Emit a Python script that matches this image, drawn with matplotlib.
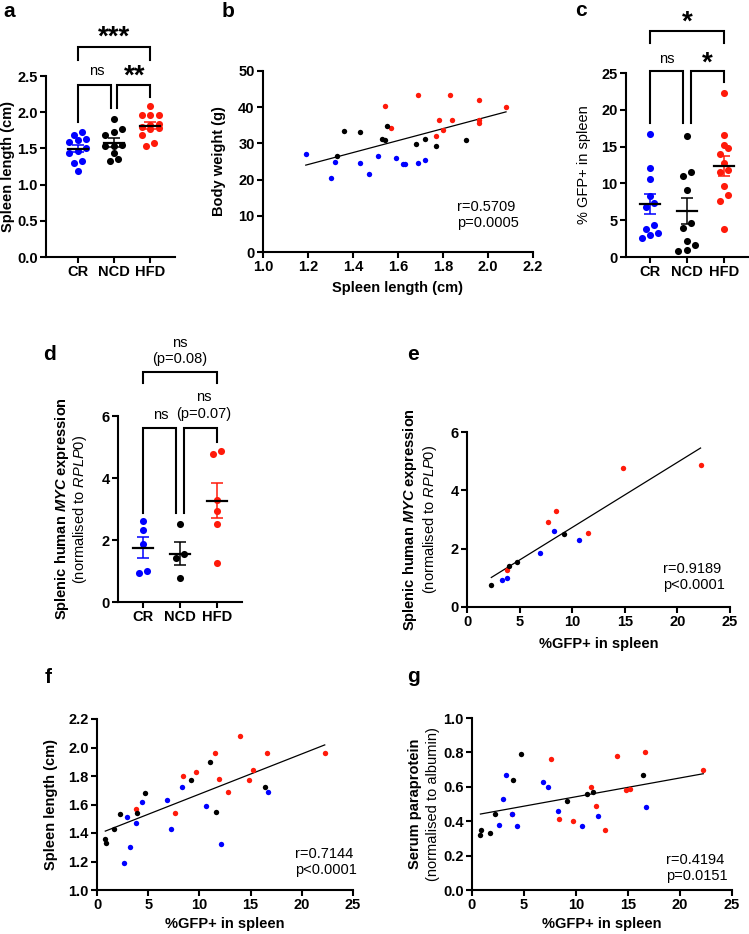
import numpy as np
import matplotlib.pyplot as plt

plt.rcParams['font.family'] = ['Liberation Sans', 'DejaVu Sans']
plt.rcParams['mathtext.fontset'] = 'custom'
plt.rcParams['mathtext.rm'] = 'Liberation Sans'
plt.rcParams['mathtext.it'] = 'Liberation Sans:italic'
plt.rcParams['mathtext.bf'] = 'Liberation Sans:bold'
plt.rcParams['mathtext.bfit'] = 'Liberation Sans:bold:italic'

BLUE = '#0000ff'
RED = '#ff1a0a'
groups = ['CR', 'NCD', 'HFD']
colors = [BLUE, 'black', RED]

# per mouse values, each group ordered by %GFP+ in spleen
gfp_cr = [2.63, 2.95, 3.25, 3.80, 4.35, 6.85, 7.27, 8.28, 10.62, 12.08, 16.72]
spleen_cr = [1.19, 1.51, 1.30, 1.47, 1.62, 1.63, 1.43, 1.72, 1.59, 1.32, 1.69]
weight_cr = [27.1, 26.6, 20.5, 21.5, 24.4, 24.4, 24.7, 25.5, 26.1, 24.9, 24.5]
para_cr = [0.38, 0.53, 0.67, 0.44, 0.37, 0.63, 0.60, 0.46, 0.37, 0.43, 0.48]

gfp_ncd = [0.81, 0.91, 1.69, 2.21, 3.90, 4.68, 9.16, 11.07, 11.59, 16.40]
spleen_ncd = [1.36, 1.33, 1.43, 1.53, 1.54, 1.68, 1.77, 1.90, 1.55, 1.72]
weight_ncd = [33.5, 26.5, 33.1, 31.3, 31.0, 29.9, 29.3, 30.9, 34.8, 31.3]
para_ncd = [0.32, 0.35, 0.33, 0.44, 0.64, 0.79, 0.52, 0.56, 0.57, 0.67]

gfp_hfd = [3.80, 7.60, 8.41, 9.68, 11.49, 11.88, 12.79, 13.99, 14.81, 15.23, 16.59, 22.24]
spleen_hfd = [1.57, 1.54, 1.80, 1.83, 1.96, 1.78, 1.69, 2.08, 1.77, 1.84, 1.96, 1.96]
weight_hfd = [34.3, 40.3, 33.7, 43.5, 41.9, 36.4, 43.5, 40.0, 32.1, 36.6, 36.6, 35.7]
para_hfd = [0.44, 0.76, 0.41, 0.40, 0.60, 0.49, 0.35, 0.78, 0.58, 0.59, 0.80, 0.70]

# MYC qPCR subset
myc_gfp_cr = [3.29, 3.83, 6.90, 8.29, 10.60]
myc_cr = [0.94, 1.00, 1.86, 2.61, 2.31]
myc_gfp_ncd = [2.31, 3.96, 4.72, 9.21]
myc_ncd = [0.76, 1.41, 1.56, 2.51]
myc_gfp_hfd = [3.83, 7.72, 8.45, 11.52, 14.84, 22.20]
myc_hfd = [1.26, 2.92, 3.28, 2.53, 4.78, 4.87]

W, H = 749, 934
fig = plt.figure(figsize=(W / 100, H / 100), dpi=100)


def add_ax(l, t, r, b):
    # pixel box -> axes
    ax = fig.add_axes([l / W, 1 - b / H, (r - l) / W, (b - t) / H])
    for s in ['top', 'right']:
        ax.spines[s].set_visible(False)
    for s in ['left', 'bottom']:
        ax.spines[s].set_linewidth(1.5)
    ax.tick_params(direction='out', length=4, width=1.5, labelsize=10.5, pad=2)
    return ax


def bold_ticks(ax):
    for lab in ax.get_xticklabels() + ax.get_yticklabels():
        lab.set_fontweight('bold')


def swarm_offsets(vals, px_x, px_y, d=8.5):
    vals = np.asarray(vals)
    order = np.argsort(vals)
    offs = np.zeros(len(vals))
    rows = []
    for i in order:
        if rows and (vals[i] - vals[rows[-1][0]]) * px_y < d * 0.85:
            rows[-1].append(i)
        else:
            rows.append([i])
    for row in rows:
        n = len(row)
        for j, i in enumerate(row):
            offs[i] = (j - (n - 1) / 2) * d / px_x
    return offs


def dot_plot(ax, data, px_x, px_y):
    for i, (v, c) in enumerate(zip(data, colors)):
        v = np.asarray(v)
        off = swarm_offsets(v, px_x, px_y)
        ax.scatter(i + off, v, s=26, color=c, lw=0, zorder=2)
        m = v.mean()
        sem = v.std(ddof=1) / np.sqrt(len(v))
        ax.errorbar(i, m, yerr=sem, color=c, lw=1.1, capsize=4.5, capthick=1.1, zorder=3)
        ax.plot([i - 0.28, i + 0.28], [m, m], color='black', lw=1.6, zorder=4)
    ax.set_xticks(range(3))
    ax.set_xticklabels(groups)
    bold_ticks(ax)


def bracket(ax, x1, x2, y, y1, y2):
    ax.plot([x1, x1, x2, x2], [y1, y, y, y2], color='black', lw=1.5, clip_on=False,
            solid_joinstyle='miter')


def stars(ax, x, y, txt):
    ax.text(x, y, txt, ha='center', va='bottom', fontsize=20, fontweight='bold')


def fit_line(ax, xs, ys):
    xs = np.concatenate(xs)
    ys = np.concatenate(ys)
    k, b0 = np.polyfit(xs, ys, 1)
    xx = np.array([xs.min(), xs.max()])
    ax.plot(xx, k * xx + b0, color='black', lw=0.9, zorder=1)


def ylab(ax, txt, off, weight='bold'):
    w = ax.get_position().width * W
    ax.set_ylabel(txt, fontsize=10.5, fontweight=weight)
    ax.yaxis.set_label_coords(-off / w, 0.5)


def ylab2(ax, l1, l2, off1, off2):
    w = ax.get_position().width * W
    ax.text(-off1 / w, 0.5, l1, transform=ax.transAxes, rotation=90, ha='center',
            va='center', fontsize=10.5, fontweight='bold')
    ax.text(-off2 / w, 0.5, l2, transform=ax.transAxes, rotation=90, ha='center',
            va='center', fontsize=10.5)


def xlab(ax, txt, off):
    h = ax.get_position().height * H
    ax.set_xlabel(txt, fontsize=10.5, fontweight='bold')
    ax.xaxis.set_label_coords(0.5, -off / h)


def stats(ax, txt, x, y):
    ax.text(x, y, txt, transform=ax.transAxes, fontsize=10.5, va='top', ha='left',
            linespacing=1.15)


# ---- a ----
ax = add_ax(46, 76, 175, 257)
ax.set_xlim(-0.88, 2.69)
ax.set_ylim(0, 2.5)
ax.set_yticks([0, 0.5, 1.0, 1.5, 2.0, 2.5])
ax.set_yticklabels(['0.0', '0.5', '1.0', '1.5', '2.0', '2.5'])
dot_plot(ax, [spleen_cr, spleen_ncd, spleen_hfd], 36, 72.4)
ylab(ax, 'Spleen length (cm)', 31)
bracket(ax, 0, 2, 2.9, 2.72, 2.72)
bracket(ax, 0, 0.91, 2.38, 1.86, 2.06)
bracket(ax, 1.09, 2, 2.38, 2.06, 2.21)
stars(ax, 1, 2.845, '***')
ax.text(0.52, 2.47, 'ns', ha='center', va='bottom', fontsize=10.5)
stars(ax, 1.58, 2.305, '**')

# ---- b ----
ax = add_ax(263, 71, 533, 252)
ax.scatter(spleen_hfd, weight_hfd, s=15, color=RED, lw=0, zorder=2)
ax.scatter(spleen_ncd, weight_ncd, s=15, color='black', lw=0, zorder=2)
ax.scatter(spleen_cr, weight_cr, s=15, color=BLUE, lw=0, zorder=2)
fit_line(ax, [spleen_cr, spleen_ncd, spleen_hfd], [weight_cr, weight_ncd, weight_hfd])
ax.set_xlim(1.0, 2.2)
ax.set_ylim(0, 50)
ax.set_xticks(np.arange(1.0, 2.21, 0.2))
ax.set_xticklabels(['1.0', '1.2', '1.4', '1.6', '1.8', '2.0', '2.2'])
ax.set_yticks(range(0, 51, 10))
bold_ticks(ax)
ylab(ax, 'Body weight (g)', 37)
xlab(ax, 'Spleen length (cm)', 29)
stats(ax, 'r=0.5709\np=0.0005', 0.72, 0.285)

# ---- c ----
ax = add_ax(626, 73, 749, 257)
ax.set_xlim(-0.65, 2.68)
ax.set_ylim(0, 25)
ax.set_yticks(range(0, 26, 5))
dot_plot(ax, [gfp_cr, gfp_ncd, gfp_hfd], 37, 7.36)
ylab(ax, '% GFP+ in spleen', 35, weight='normal')
bracket(ax, 0, 2, 30.7, 29.1, 29.1)
bracket(ax, 0, 0.9, 25.3, 18.2, 18.2)
bracket(ax, 1.1, 2, 25.3, 18.2, 23.8)
stars(ax, 1, 30.05, '*')
ax.text(0.45, 26.0, 'ns', ha='center', va='bottom', fontsize=10.5)
stars(ax, 1.55, 24.57, '*')

# ---- d ----
ax = add_ax(118, 416, 242, 602)
ax.set_xlim(-0.68, 2.68)
ax.set_ylim(0, 6)
ax.set_yticks([0, 2, 4, 6])
dot_plot(ax, [myc_cr, myc_ncd, myc_hfd], 37, 31)
ylab2(ax, r'Splenic human $\mathbfit{MYC}$ expression', r'(normalised to $\mathit{RPLP0}$)', 56, 38)
bracket(ax, 0, 2, 7.43, 7.06, 7.06)
bracket(ax, 0, 0.9, 5.6, 2.87, 2.87)
bracket(ax, 1.1, 2, 5.6, 2.87, 5.16)
ax.text(1, 8.35, 'ns', ha='center', va='center', fontsize=10.5)
ax.text(1, 7.84, '(p=0.08)', ha='center', va='center', fontsize=10.5)
ax.text(0.48, 6.03, 'ns', ha='center', va='center', fontsize=10.5)
ax.text(1.65, 6.6, 'ns', ha='center', va='center', fontsize=10.5)
ax.text(1.65, 6.06, '(p=0.07)', ha='center', va='center', fontsize=10.5)

# ---- e ----
ax = add_ax(467, 432, 730, 607)
ax.scatter(myc_gfp_hfd, myc_hfd, s=15, color=RED, lw=0, zorder=2)
ax.scatter(myc_gfp_ncd, myc_ncd, s=15, color='black', lw=0, zorder=2)
ax.scatter(myc_gfp_cr, myc_cr, s=15, color=BLUE, lw=0, zorder=2)
fit_line(ax, [myc_gfp_cr, myc_gfp_ncd, myc_gfp_hfd], [myc_cr, myc_ncd, myc_hfd])
ax.set_xlim(0, 25)
ax.set_ylim(0, 6)
ax.set_xticks(range(0, 26, 5))
ax.set_yticks([0, 2, 4, 6])
bold_ticks(ax)
ylab2(ax, r'Splenic human $\mathbfit{MYC}$ expression', r'(normalised to $\mathit{RPLP0}$)', 57, 37)
xlab(ax, '%GFP+ in spleen', 30)
stats(ax, 'r=0.9189\np<0.0001', 0.745, 0.255)

# ---- f ----
ax = add_ax(97, 719, 353, 890)
ax.scatter(gfp_hfd, spleen_hfd, s=15, color=RED, lw=0, zorder=2)
ax.scatter(gfp_ncd, spleen_ncd, s=15, color='black', lw=0, zorder=2)
ax.scatter(gfp_cr, spleen_cr, s=15, color=BLUE, lw=0, zorder=2)
fit_line(ax, [gfp_cr, gfp_ncd, gfp_hfd], [spleen_cr, spleen_ncd, spleen_hfd])
ax.set_xlim(0, 25)
ax.set_ylim(1.0, 2.2)
ax.set_xticks(range(0, 26, 5))
ax.set_yticks(np.arange(1.0, 2.21, 0.2))
ax.set_yticklabels(['1.0', '1.2', '1.4', '1.6', '1.8', '2.0', '2.2'])
bold_ticks(ax)
ylab(ax, 'Spleen length (cm)', 39)
xlab(ax, '%GFP+ in spleen', 27)
stats(ax, 'r=0.7144\np<0.0001', 0.775, 0.25)

# ---- g ----
ax = add_ax(472, 718, 732, 890)
ax.scatter(gfp_hfd, para_hfd, s=15, color=RED, lw=0, zorder=2)
ax.scatter(gfp_ncd, para_ncd, s=15, color='black', lw=0, zorder=2)
ax.scatter(gfp_cr, para_cr, s=15, color=BLUE, lw=0, zorder=2)
fit_line(ax, [gfp_cr, gfp_ncd, gfp_hfd], [para_cr, para_ncd, para_hfd])
ax.set_xlim(0, 25)
ax.set_ylim(0, 1.0)
ax.set_xticks(range(0, 26, 5))
ax.set_yticks(np.arange(0, 1.01, 0.2))
ax.set_yticklabels(['0.0', '0.2', '0.4', '0.6', '0.8', '1.0'])
bold_ticks(ax)
ylab2(ax, 'Serum paraprotein', '(normalised to albumin)', 57, 39)
xlab(ax, '%GFP+ in spleen', 27)
stats(ax, 'r=0.4194\np=0.0151', 0.745, 0.215)

# panel letters
for lab, x, y in [('a', 3, 17), ('b', 222, 17), ('c', 575, 16), ('d', 43, 360),
                  ('e', 407, 360), ('f', 45, 683), ('g', 407, 682)]:
    fig.text(x / W, 1 - y / H, lab, fontsize=15, fontweight='bold', va='baseline')

fig.savefig('out.png', dpi=100)
